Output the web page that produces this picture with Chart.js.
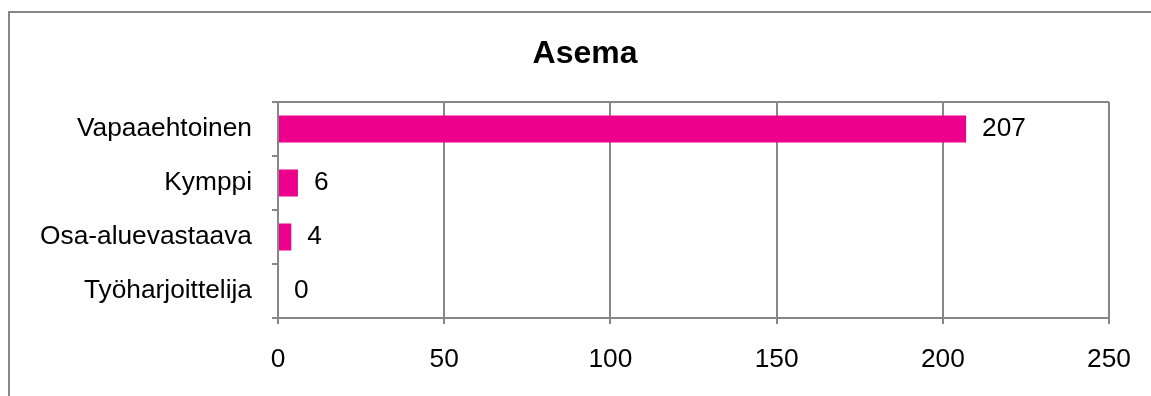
<!DOCTYPE html>
<html>
<head>
<meta charset="utf-8">
<script src="https://cdn.jsdelivr.net/npm/chart.js@4/dist/chart.umd.min.js"></script>
<style>
  html, body { margin: 0; padding: 0; background: #fff; overflow: hidden; }
  #wrap { position: relative; width: 1151px; height: 396px; }
  #frame {
    position: absolute; left: 8px; top: 11px; width: 1300px; height: 500px;
    border: 2px solid #878787; pointer-events: none;
  }
  #title {
    position: absolute; left: 0; top: 33px; width: 1170px; text-align: center;
    font: bold 32px/38px "Liberation Sans", Arial, sans-serif; color: #000;
  }
</style>
</head>
<body>
<div id="wrap">
  <canvas id="chart"></canvas>
  <div id="title">Asema</div>
  <div id="frame"></div>
</div>
<script>
const categories = ['Vapaaehtoinen', 'Kymppi', 'Osa-aluevastaava', 'Työharjoittelija'];
const counts = [207, 6, 4, 0];
const axisTicks = [0, 50, 100, 150, 200, 250];

const lineGray = '#878787';
const barColor = '#ec008c';
const fontFamily = '"Liberation Sans", Arial, sans-serif';

// numbers next to the bars
const valueLabels = {
  id: 'valueLabels',
  afterDatasetsDraw(chart) {
    const ctx = chart.ctx;
    const meta = chart.getDatasetMeta(0);
    ctx.save();
    ctx.font = `26.3px ${fontFamily}`;
    ctx.fillStyle = '#000';
    ctx.textAlign = 'left';
    ctx.textBaseline = 'middle';
    meta.data.forEach((bar, i) => {
      ctx.fillText(String(counts[i]), bar.x + 16, bar.y);
    });
    ctx.restore();
  },
};

new Chart(document.getElementById('chart'), {
  type: 'bar',
  data: {
    labels: categories,
    datasets: [
      {
        data: counts,
        backgroundColor: barColor,
        borderWidth: 0,
        categoryPercentage: 1,
        barPercentage: 0.5,
      },
    ],
  },
  options: {
    indexAxis: 'y',
    responsive: true,
    maintainAspectRatio: false,
    animation: false,
    layout: { padding: { left: 20, right: 41, top: 102, bottom: 0 } },
    plugins: {
      legend: { display: false },
      tooltip: { enabled: false },
      title: { display: false },
    },
    scales: {
      x: {
        min: 0,
        max: 250,
        afterFit: (scale) => { scale.height = 78; },
        afterBuildTicks: (scale) => { scale.ticks = axisTicks.map((v) => ({ value: v })); },
        grid: { color: lineGray, lineWidth: 2, tickLength: 6, tickColor: lineGray },
        border: { display: true, color: lineGray, width: 2 },
        ticks: { color: '#000', padding: 20, font: { family: fontFamily, size: 26.3 } },
      },
      y: {
        afterFit: (scale) => { scale.width = 258; },
        grid: {
          offset: true,
          lineWidth: 2,
          tickLength: 6,
          tickColor: lineGray,
          color: (ctx) => (ctx.index === 0 ? lineGray : 'rgba(0,0,0,0)'),
        },
        border: { display: true, color: lineGray, width: 2 },
        ticks: { color: '#000', padding: 20, font: { family: fontFamily, size: 26.3 } },
      },
    },
  },
  plugins: [valueLabels],
});
</script>
</body>
</html>
